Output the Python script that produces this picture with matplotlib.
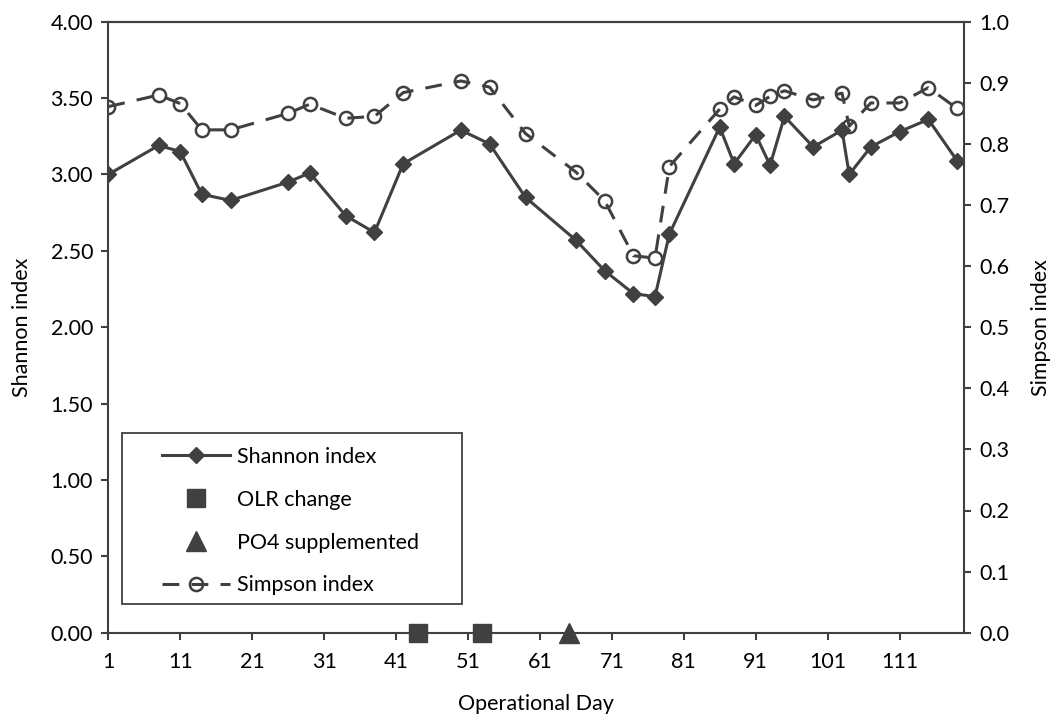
import matplotlib
matplotlib.use("Agg")
import matplotlib.pyplot as plt
from matplotlib.ticker import FixedLocator, FormatStrFormatter
from matplotlib.patches import Rectangle

plt.rcParams['font.family'] = ['Lato', 'DejaVu Sans']

# Data
shannon_days = [1, 8, 11, 14, 18, 26, 29, 34, 38, 42, 50, 54, 59, 66, 70, 74, 77, 79,
                86, 88, 91, 93, 95, 99, 103, 104, 107, 111, 115, 119]
shannon_vals = [3.00, 3.19, 3.15, 2.87, 2.83, 2.95, 3.01, 2.73, 2.62, 3.07, 3.29, 3.20,
                2.85, 2.57, 2.37, 2.22, 2.20, 2.61, 3.31, 3.07, 3.26, 3.06, 3.38, 3.18,
                3.29, 3.00, 3.18, 3.28, 3.36, 3.09]
simpson_days = [1, 8, 11, 14, 18, 26, 29, 34, 38, 42, 50, 54, 59, 66, 70, 74, 77, 79,
                86, 88, 91, 93, 95, 99, 103, 104, 107, 111, 115, 119]
simpson_vals = [0.861, 0.880, 0.866, 0.823, 0.823, 0.850, 0.865, 0.842, 0.845, 0.884,
                0.903, 0.893, 0.817, 0.754, 0.707, 0.617, 0.613, 0.763, 0.857, 0.877,
                0.863, 0.878, 0.887, 0.872, 0.883, 0.829, 0.867, 0.867, 0.892, 0.858]
olr_days = [44, 53]
olr_vals = [0, 0]
po4_days = [65]
po4_vals = [0]
x_ticks = [1, 11, 21, 31, 41, 51, 61, 71, 81, 91, 101, 111]
left_ticks = [0, 0.5, 1.0, 1.5, 2.0, 2.5, 3.0, 3.5, 4.0]
right_ticks = [0, 0.1, 0.2, 0.3, 0.4, 0.5, 0.6, 0.7, 0.8, 0.9, 1.0]

C = '#404040'
FS = 15.5
W, H = 1055, 715

fig = plt.figure(figsize=(W/100, H/100), dpi=100)
ax = fig.add_axes([108.3/W, 1 - 632.7/H, (964.3-108.3)/W, (632.7-21.7)/H])
ax2 = ax.twinx()

l1, = ax.plot(shannon_days, shannon_vals, color=C, lw=2.2, marker='D', ms=8,
              mfc=C, mec=C, label='Shannon index', zorder=3)
l2, = ax.plot(olr_days, olr_vals, ls='none', marker='s', ms=12.5, mfc=C, mec=C,
              label='OLR change', clip_on=False, zorder=5)
l3, = ax.plot(po4_days, po4_vals, ls='none', marker='^', ms=14, mfc=C, mec=C,
              label='PO4 supplemented', clip_on=False, zorder=5)
l4, = ax2.plot(simpson_days, simpson_vals, color=C, lw=2.2, dashes=(5.5, 4),
               marker='o', ms=9.5, mfc='none', mec=C, mew=1.8, label='Simpson index', zorder=3)

ax.set_xlim(1, 120)
ax.set_ylim(0, 4)
ax2.set_ylim(0, 1)
ax.xaxis.set_major_locator(FixedLocator(x_ticks))
ax.yaxis.set_major_locator(FixedLocator(left_ticks))
ax2.yaxis.set_major_locator(FixedLocator(right_ticks))
ax.yaxis.set_major_formatter(FormatStrFormatter('%.2f'))
ax2.yaxis.set_major_formatter(FormatStrFormatter('%.1f'))

for a in (ax, ax2):
    for s in a.spines.values():
        s.set_color(C)
        s.set_linewidth(1.5)
    a.tick_params(colors=C, labelcolor='black', labelsize=FS, length=5, width=1.5,
                  direction='out')
ax.spines['right'].set_visible(False)
ax2.spines['left'].set_visible(False)
ax2.spines['bottom'].set_visible(False)
ax.tick_params(axis='x', pad=9)
ax.tick_params(axis='y', pad=6)
ax2.tick_params(axis='y', pad=6)

ax.set_xlabel('Operational Day', fontsize=FS, labelpad=16)
ax.set_ylabel('Shannon index', fontsize=FS, labelpad=13)
ax2.set_ylabel('Simpson index', fontsize=FS, labelpad=15)

# Legend frame drawn as a rectangle in figure pixels
frame = Rectangle((121.7/W, 1 - 604.3/H), (461.7-121.7)/W, (604.3-433.3)/H,
                  transform=fig.transFigure, facecolor='white', edgecolor=C,
                  linewidth=1.3, zorder=9, clip_on=False)
ax2.add_artist(frame)

leg = ax2.legend([l1, l2, l3, l4], ['Shannon index', 'OLR change', 'PO4 supplemented', 'Simpson index'],
                 loc='upper left', bbox_to_anchor=(161.7/W, 1 - 447/H),
                 bbox_transform=fig.transFigure, fontsize=FS, frameon=False,
                 handlelength=3.15, handletextpad=0.37, labelspacing=1.06, borderpad=0,
                 borderaxespad=0)
leg.set_zorder(10)

fig.savefig('out.png', dpi=100)
